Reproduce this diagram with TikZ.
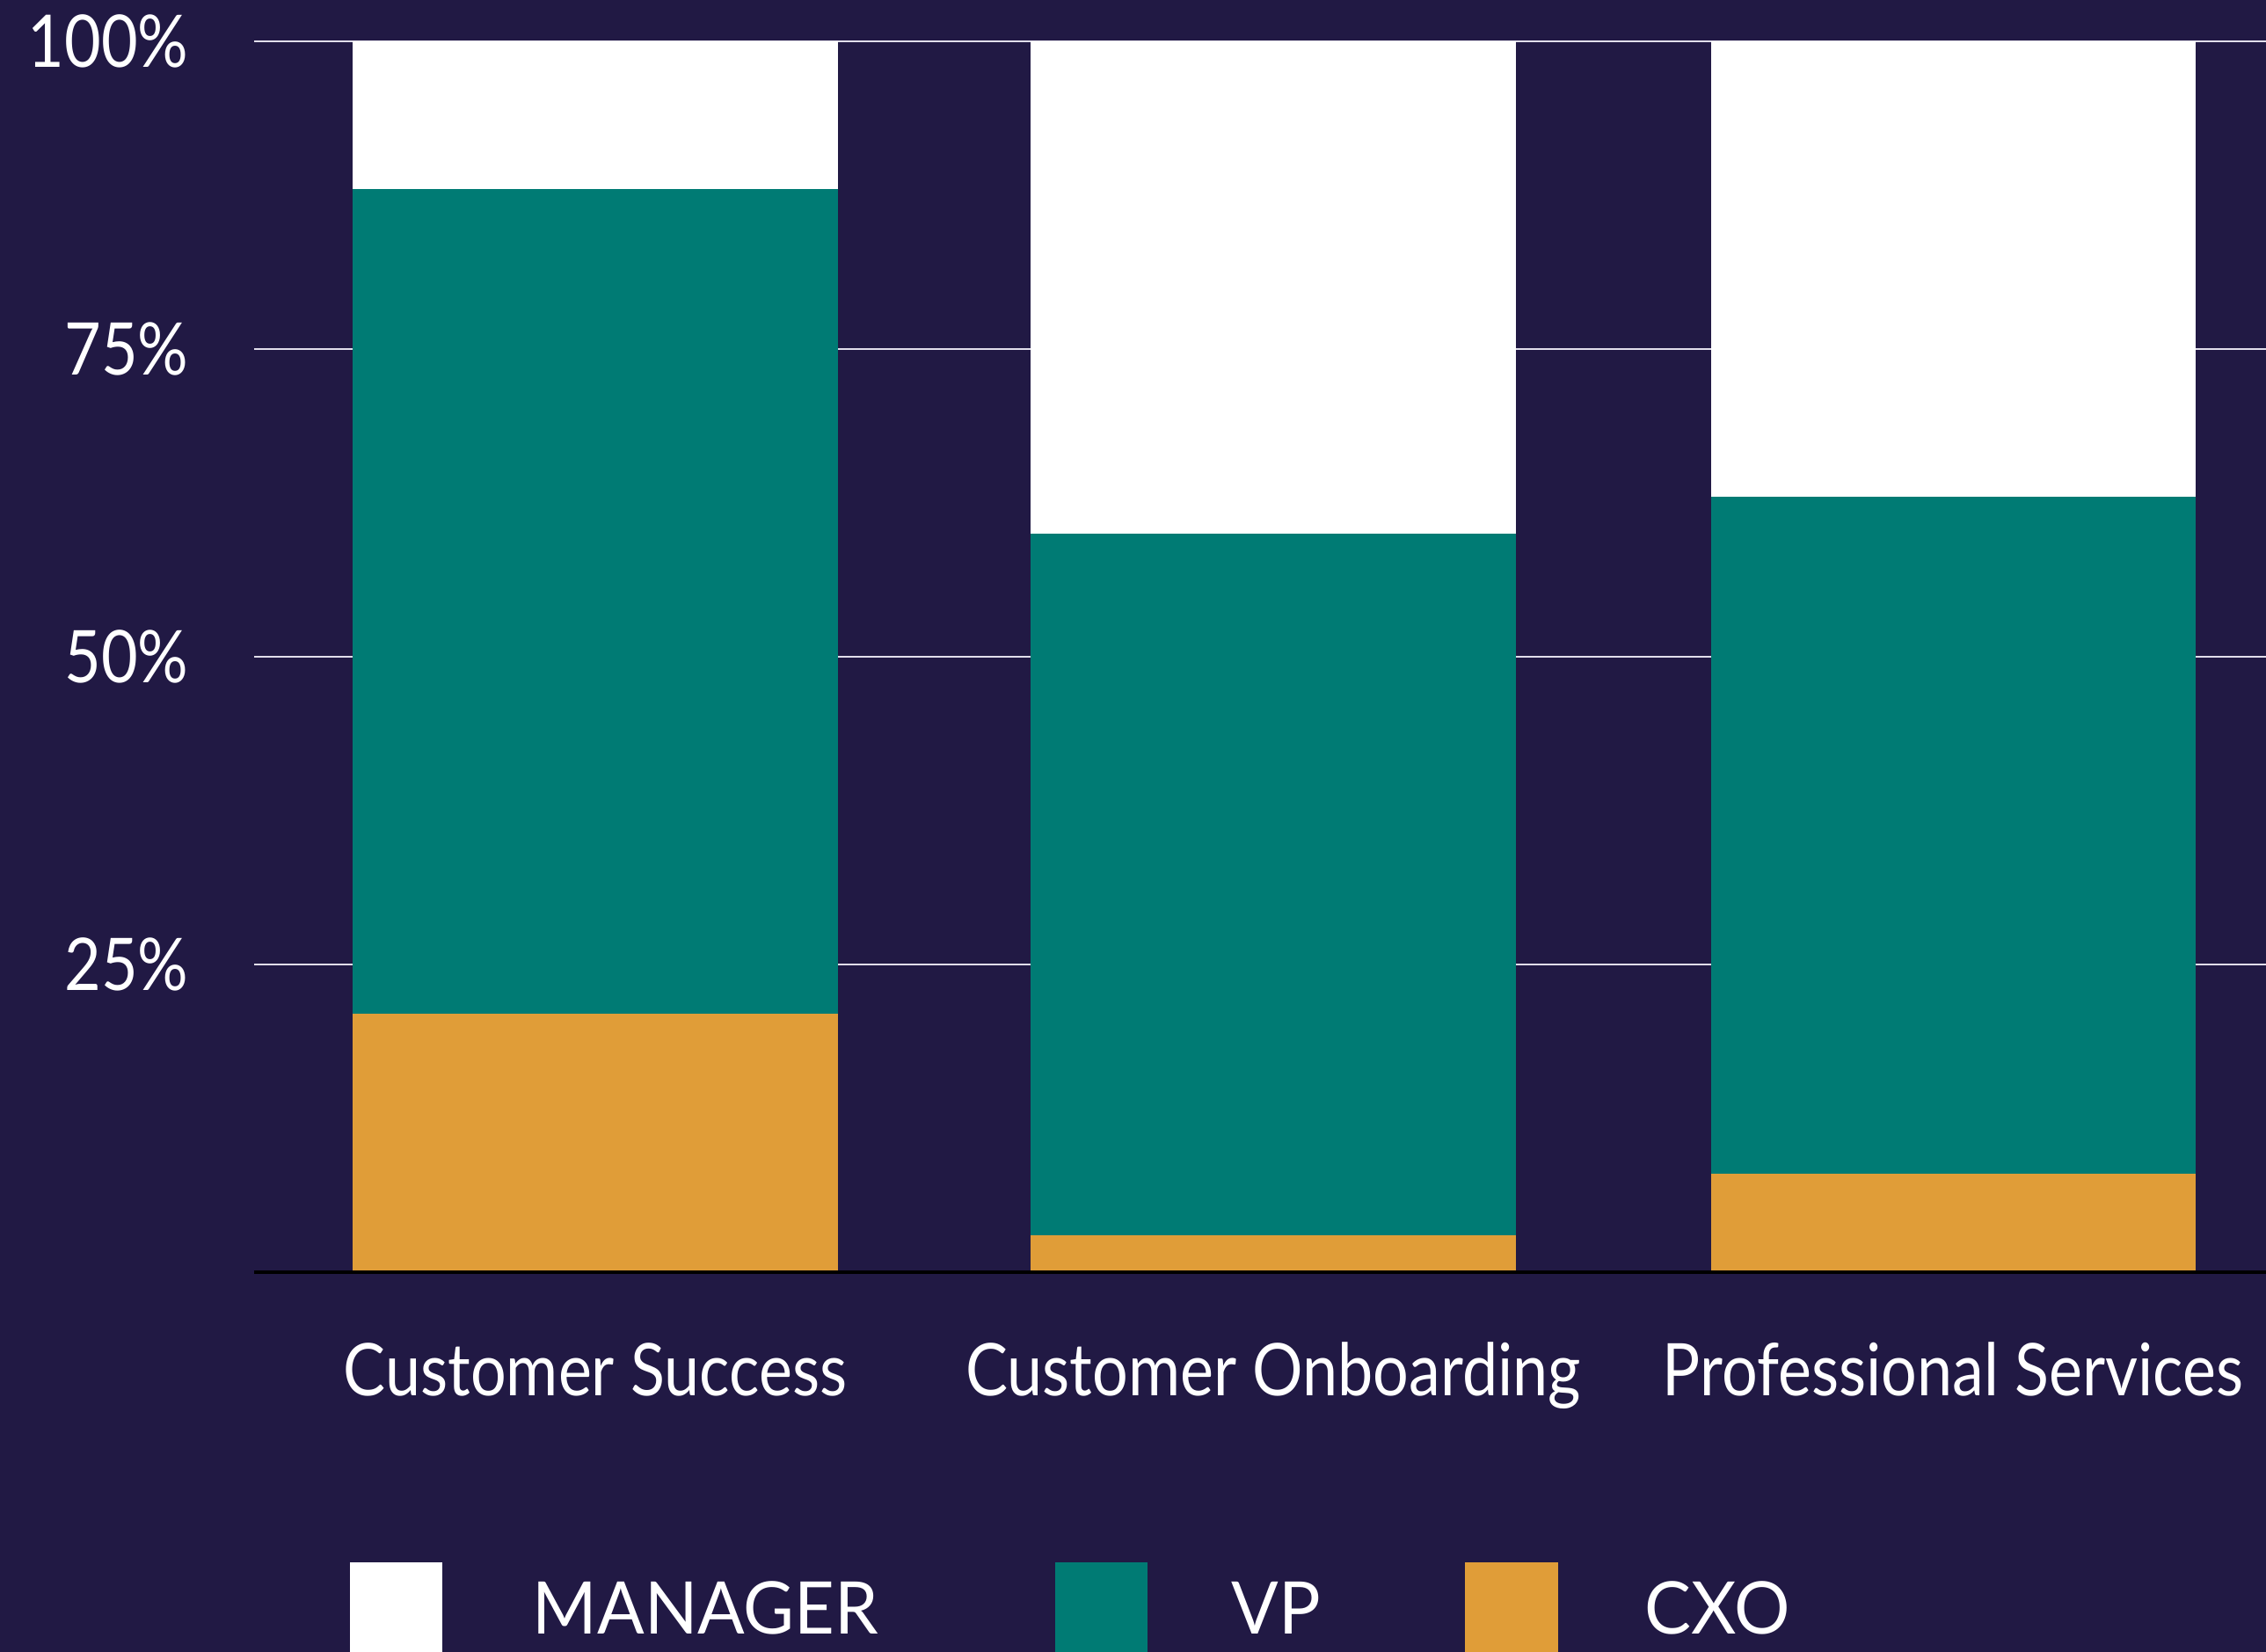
\documentclass[tikz,border=0pt]{standalone}
\usepackage{fontspec}
\setmainfont{Lato}
\usepackage{graphicx}
\usepackage{tikz}
\definecolor{navybg}{RGB}{33,25,68}
\definecolor{vpteal}{RGB}{0,123,116}
\definecolor{cxoorange}{RGB}{224,157,56}
\definecolor{gridwhite}{RGB}{225,222,235}
\def\narrow#1{\scalebox{0.87}[1]{#1}}
\def\legnarrow#1{\scalebox{0.96}[1]{#1}}

\begin{document}
\begin{tikzpicture}[
		txt/.style={text=white, inner sep=0pt, font=\fontsize{23.5}{28}\selectfont},
		gridline/.style={line width=0.6pt, color=gridwhite}
	]
		%%%%% START %%%%%
		
		\useasboundingbox (0, 0) rectangle (25.77, 18.79);
		\fill[navybg] (0, 0) rectangle (25.77, 18.79);
		
		% grid
		\draw[gridline] (2.89, 18.32) -- (25.77, 18.32);
		\draw[gridline] (2.89, 14.82) -- (25.77, 14.82);
		\draw[gridline] (2.89, 11.32) -- (25.77, 11.32);
		\draw[gridline] (2.89, 7.82) -- (25.77, 7.82);
		
		\node[txt, anchor=east] (y100) at (2.15, 18.32) {\narrow{100\%}};
		\node[txt, anchor=east] (y75) at (2.15, 14.82) {\narrow{75\%}};
		\node[txt, anchor=east] (y50) at (2.15, 11.32) {\narrow{50\%}};
		\node[txt, anchor=east] (y25) at (2.15, 7.82) {\narrow{25\%}};
		
		% customer success
		\fill[cxoorange] (4.01, 4.32) rectangle (9.53, 7.26);
		\fill[vpteal] (4.01, 7.26) rectangle (9.53, 16.64);
		\fill[white] (4.01, 16.64) rectangle (9.53, 18.32);
		
		% customer onboarding
		\fill[cxoorange] (11.72, 4.32) rectangle (17.24, 4.74);
		\fill[vpteal] (11.72, 4.74) rectangle (17.24, 12.72);
		\fill[white] (11.72, 12.72) rectangle (17.24, 18.32);
		
		% professional services
		\fill[cxoorange] (19.46, 4.32) rectangle (24.97, 5.44);
		\fill[vpteal] (19.46, 5.44) rectangle (24.97, 13.14);
		\fill[white] (19.46, 13.14) rectangle (24.97, 18.32);
		
		\draw[line width=1.2pt, color=black] (2.89, 4.32) -- (25.77, 4.32);
		
		\node[txt, anchor=base] (cs) at (6.77, 2.91) {\narrow{Customer Success}};
		\node[txt, anchor=base] (co) at (14.48, 2.91) {\narrow{Customer Onboarding}};
		\node[txt, anchor=base] (ps) at (22.21, 2.91) {\narrow{Professional Services}};
		
		% legend
		\fill[white] (3.98, 0) rectangle (5.03, 1.02);
		\node[txt, anchor=base west] (manager) at (6.05, 0.20) {\legnarrow{MANAGER}};
		
		\fill[vpteal] (12.00, 0) rectangle (13.05, 1.02);
		\node[txt, anchor=base west] (vp) at (14.00, 0.20) {\legnarrow{VP}};
		
		\fill[cxoorange] (16.66, 0) rectangle (17.72, 1.02);
		\node[txt, anchor=base west] (cxo) at (18.70, 0.20) {\legnarrow{CXO}};
		
		%%%%% END %%%%%
	\end{tikzpicture}
\end{document}
